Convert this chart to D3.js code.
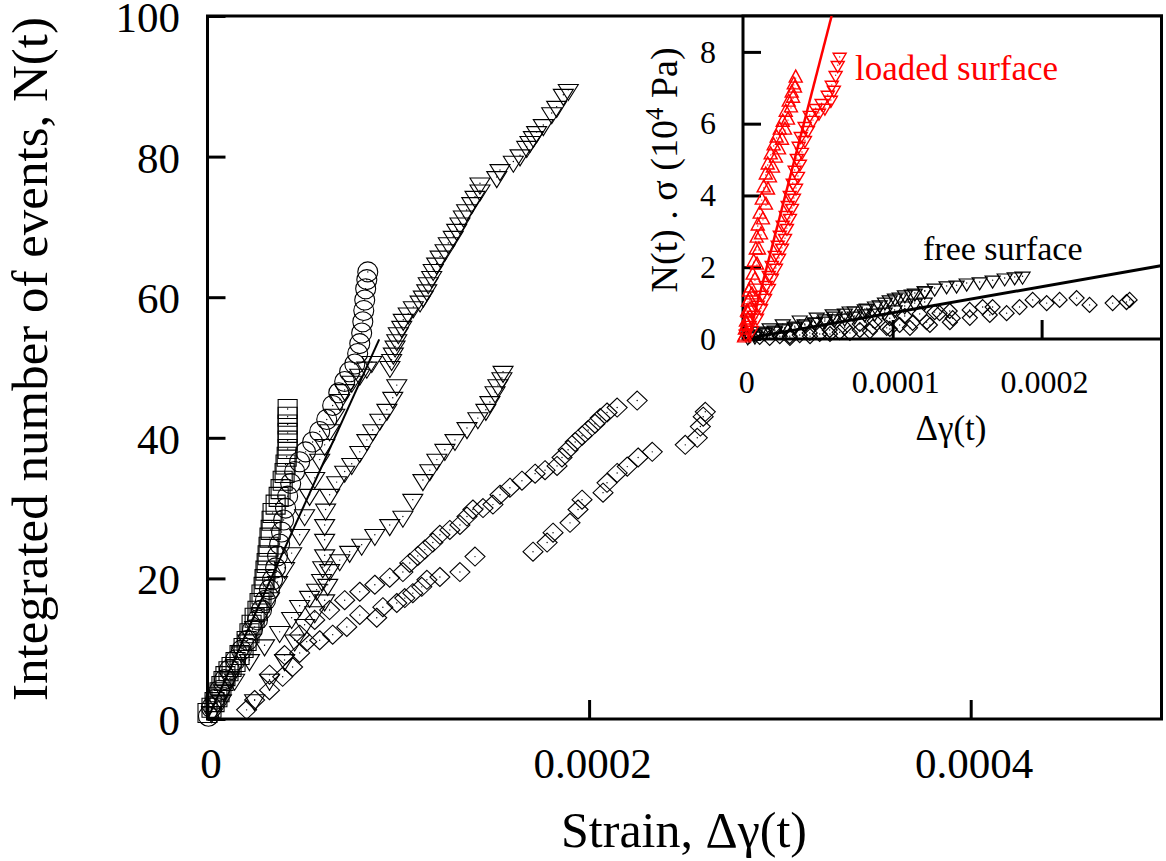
<!DOCTYPE html>
<html><head><meta charset="utf-8">
<script src="https://cdn.jsdelivr.net/npm/d3@7"></script>
<style>
html,body{margin:0;padding:0;background:#fff;}
svg{display:block;font-family:"Liberation Serif","Times New Roman",serif;}
</style></head><body>
<svg id="chart" width="1166" height="861"></svg>
<script>
// ---------- DATA (strain in units of 1e-6, N(t) in events) ----------
const MAIN_X_TICKS = [0, 0.0002, 0.0004];
const MAIN_Y_TICKS = [0, 20, 40, 60, 80, 100];
const INSET_X_TICKS = [0, 0.0001, 0.0002];
const INSET_Y_TICKS = [0, 2, 4, 6, 8];

const squares = [[0,0.85],[2.1,1.6],[3.7,2.4],[5.2,3.1],[6.3,3.8],[7.3,4.7],[8.4,5.4],[9.4,6.1],[11.0,6.8],[12.6,7.4],[14.7,8.1],[16.8,9.1],[18.9,10.1],[20.5,11.1],[22.0,12.2],[23.1,13.4],[24.7,14.4],[26.2,15.4],[27.3,16.5],[28.3,17.7],[29.4,18.8],[29.9,19.9],[30.4,21.1],[31.0,22.2],[31.5,23.3],[32.0,24.5],[32.5,25.8],[33.1,26.9],[33.6,28.2],[34.1,29.3],[35.7,30.5],[37.3,31.6],[38.3,32.7],[39.4,33.9],[40.4,35.0],[40.9,36.2],[41.5,37.3],[42.0,38.4],[42.0,39.6],[42.0,40.7],[42.0,41.9],[42.0,43.0],[42.0,44.1]];

const circles = [[0.5,0.4],[2.1,1.6],[4.2,2.8],[6.3,4.1],[8.9,5.6],[11.5,7.0],[14.7,8.4],[17.8,9.8],[21.0,11.2],[23.6,12.7],[26.2,14.1],[28.3,15.5],[30.4,16.9],[32.5,18.4],[34.1,19.8],[35.7,21.5],[36.7,23.2],[37.8,24.9],[38.8,26.6],[39.9,28.3],[40.9,30.0],[42.0,31.7],[43.6,33.5],[45.7,35.2],[48.3,36.6],[51.4,38.0],[55.1,39.4],[58.8,40.9],[62.5,42.6],[65.6,44.6],[68.8,46.4],[71.9,48.0],[74.5,49.4],[77.2,50.5],[78.7,52.0],[79.8,53.4],[80.8,54.9],[81.4,56.5],[81.9,58.1],[82.4,59.6],[82.9,61.2],[83.5,62.5],[84.0,63.6]];

const trianglesA = [[7.3,2.7],[14.2,5.6],[22.0,8.4],[29.9,10.5],[37.8,12.4],[44.1,14.4],[48.3,16.1],[53.5,17.4],[57.2,18.4],[59.8,19.8],[60.4,21.6],[61.4,23.3],[61.4,25.5],[61.4,27.6],[61.9,29.8],[64.0,31.9],[67.7,33.7],[71.9,35.2],[75.6,36.3],[79.8,38.0],[83.5,39.7],[86.6,41.1],[90.3,42.6],[94.0,44.0],[97.1,45.7],[99.2,47.5],[95.6,50.1],[96.5,51.1],[97.4,52.0],[98.3,53.0],[99.2,53.9],[100.0,54.9],[101.8,55.8],[102.6,56.8],[105.2,57.7],[107.9,58.6],[111.4,59.4],[113.1,60.1],[114.9,61.0],[115.7,62.0],[117.5,62.9],[118.3,63.9],[120.1,64.8],[121.9,65.8],[124.5,66.7],[126.2,67.7],[128.8,68.6],[130.6,69.6],[132.3,70.5],[134.1,71.5],[135.8,72.4],[138.5,73.4],[140.2,74.3],[142.8,75.2],[142.8,76.2],[151.6,77.1],[153.3,78.1],[160.3,79.3],[163.8,80.2],[167.3,81.4],[169.0,82.1],[170.8,82.8],[172.5,83.5],[176.0,84.5],[180.4,86.2],[183.0,87.1],[186.5,88.8],[189.1,89.5]];

const trianglesB = [[2.1,1.0],[5.2,2.4],[8.4,4.1],[11.5,5.8],[14.7,7.7],[17.8,9.5],[21.0,11.2],[24.7,13.1],[28.3,15.1],[32.5,17.2],[36.7,19.5],[40.4,21.5],[44.1,23.6],[48.3,26.2],[50.9,29.0],[53.5,31.9],[56.2,34.3],[58.8,36.9],[61.4,39.0],[64.0,41.1],[66.7,43.3],[69.3,45.4],[71.9,46.8],[75.6,48.0],[79.8,49.0],[83.5,50.0],[86.1,50.8]];

const trianglesC = [[24.7,2.7],[32.5,5.6],[40.4,8.4],[45.7,11.2],[50.9,13.4],[56.2,15.2],[61.4,16.9],[63.0,19.1],[64.0,21.2],[69.3,22.6],[74.5,23.8],[80.8,24.8],[87.7,26.2],[95.5,27.6],[102.4,28.8],[107.6,31.2],[112.9,34.0],[116.5,35.4],[120.2,36.9],[124.4,38.3],[129.7,39.7],[136.0,41.4],[141.7,42.8],[145.9,44.0],[148.0,45.1],[150.7,46.5],[152.2,47.5],[154.3,48.5],[154.9,49.4]];

const diamondsA = [[24.7,2.7],[32.5,6.3],[40.4,9.1],[48.3,12.0],[56.2,14.1],[64.0,15.5],[71.9,16.9],[79.8,18.1],[87.7,19.1],[95.5,20.1],[102.4,20.9],[106.0,22.2],[110.2,23.2],[113.9,24.1],[118.1,25.1],[121.8,26.2],[127.0,26.9],[132.3,27.6],[136.0,28.8],[139.1,29.8],[144.4,30.0],[149.6,30.5],[153.3,31.9],[158.5,32.9],[164.8,33.9],[171.7,34.9],[176.9,35.4],[183.2,36.0],[185.8,37.2],[189.0,38.3],[192.7,39.4],[196.3,40.3],[199.5,41.1],[203.1,42.0],[205.8,42.8],[209.4,43.6],[214.7,44.3],[225.2,45.3]];

const diamondsB = [[20.5,1.3],[32.5,4.1],[39.4,6.0],[44.6,7.4],[48.3,9.4],[52.0,11.0],[58.8,11.2],[65.6,12.0],[73.0,13.1],[79.8,14.8],[88.7,14.4],[91.9,15.9],[99.2,16.5],[103.4,17.2],[107.6,17.9],[112.3,18.8],[115.0,19.8],[121.8,20.2],[132.3,20.9],[140.2,23.1],[170.6,23.8],[178.0,25.1],[181.1,26.5],[190.0,27.9],[194.2,29.8],[196.3,31.2],[207.3,32.2],[209.4,33.6],[214.7,35.0],[220.0,35.9],[225.7,37.2],[233.1,38.0],[250.4,39.0],[256.7,40.0],[258.3,41.6],[259.8,43.0],[260.9,43.7]];

const mainFit = [[0,0],[90,54]];

// inset: strain (1e-6), N(t)*sigma (1e4 Pa)
const loadedUp = [[0.2,0.03],[0.7,0.08],[0.8,0.25],[1.5,0.47],[2.0,0.39],[2.2,0.75],[2.7,0.72],[2.9,0.53],[2.9,1.03],[3.5,1.31],[4.0,1.09],[4.2,0.81],[4.7,1.42],[5.5,1.23],[6.0,1.78],[6.7,2.14],[7.5,1.64],[8.1,2.48],[8.7,2.81],[8.9,2.06],[9.4,3.15],[10.2,2.48],[10.7,3.48],[11.6,2.90],[12.1,3.87],[12.9,3.32],[13.4,4.21],[14.8,4.57],[14.9,3.73],[16.1,4.85],[16.3,4.15],[17.6,4.49],[18.1,5.13],[19.6,4.76],[20.1,5.38],[21.6,5.04],[22.1,5.60],[23.7,5.27],[24.2,5.82],[25.7,5.54],[26.2,6.04],[27.7,5.82],[28.2,6.32],[29.7,6.10],[30.2,6.60],[31.7,6.44],[32.2,6.85],[33.1,6.71],[33.6,7.08],[34.4,6.99],[34.9,7.27]];
const loadedDown = [[1.3,0.14],[4.0,0.39],[5.5,0.25],[6.7,0.67],[8.9,0.59],[9.4,0.95],[11.6,0.86],[12.1,1.23],[14.3,1.14],[14.8,1.50],[16.8,1.78],[16.9,1.42],[18.8,2.06],[18.9,1.70],[20.8,2.34],[21.6,1.98],[22.8,2.62],[23.7,2.26],[24.2,2.90],[25.7,2.54],[26.2,3.18],[27.7,2.81],[28.2,3.45],[29.0,3.09],[29.5,3.73],[30.9,4.01],[31.0,3.37],[32.4,3.65],[32.9,4.35],[33.7,3.93],[34.2,4.71],[35.1,4.21],[35.6,5.04],[36.4,4.54],[36.9,5.38],[37.7,4.88],[38.3,5.65],[39.1,5.21],[40.9,5.93],[41.1,5.54],[43.1,5.82],[44.3,6.24],[46.5,6.10],[48.3,6.43],[50.5,6.30],[52.3,6.57],[54.5,6.44],[56.4,6.80],[58.5,6.66],[59.1,7.08],[60.5,6.94],[61.7,7.35],[63.1,7.63],[64.4,7.86]];
const freeTriA = [[4.0,0.11],[10.7,0.22],[17.4,0.31],[26.2,0.42],[37.6,0.53],[49.0,0.61],[59.7,0.70],[71.1,0.78],[82.6,0.86],[91.3,0.95],[98.0,1.09],[104.7,1.17],[112.8,1.25],[121.5,1.34],[128.2,1.42],[136.2,1.48],[142.9,1.50],[149.7,1.56],[158.4,1.59],[167.1,1.64],[175.2,1.70],[181.9,1.73],[187.2,1.75]];
const freeTriB = [[2.7,0.06],[7.4,0.14],[14.1,0.19],[20.8,0.25],[27.5,0.31],[34.2,0.36],[40.9,0.42],[47.7,0.47],[54.4,0.50],[61.1,0.56],[67.8,0.58],[74.5,0.64],[81.2,0.70],[87.9,0.72],[94.6,0.75],[101.3,0.81],[108.1,0.92],[114.8,1.00],[121.5,1.03]];
const freeTriC = [[7.5,0.08],[14.3,0.17],[21.0,0.22],[27.7,0.28],[34.4,0.33],[41.1,0.39],[47.8,0.47],[54.5,0.56],[61.2,0.64],[67.9,0.72],[74.6,0.78],[81.3,0.84],[88.1,0.92],[94.8,1.03],[101.5,1.14],[108.2,1.23],[114.9,1.28],[121.6,1.34]];
const freeDiaA = [[10.7,0.06],[24.2,0.08],[37.6,0.11],[51.0,0.14],[64.4,0.19],[77.9,0.25],[86.6,0.33],[96.0,0.31],[104.7,0.39],[113.4,0.45],[122.8,0.47],[131.5,0.72],[140.3,0.58],[151.7,0.81],[160.4,0.89],[167.1,0.89],[176.5,0.72],[185.2,0.89],[194.0,1.09],[203.4,1.00],[212.1,1.09],[223.5,1.14],[232.2,0.95],[247.7,1.00],[257.0,1.03],[259.1,1.09]];
const freeDiaB = [[17.4,0.03],[30.9,0.08],[44.3,0.17],[57.7,0.25],[67.8,0.33],[77.9,0.42],[87.9,0.50],[98.0,0.58],[108.1,0.64],[118.1,0.70],[128.2,0.75],[138.3,0.78]];
const freeDiaC = [[31.0,0.03],[44.5,0.08],[57.9,0.14],[71.3,0.17],[84.7,0.22],[98.1,0.28],[111.6,0.31],[125.0,0.39],[138.4,0.47],[151.8,0.59],[165.2,0.67]];
const loadedFit = [[3,0],[59,9]];
const freeFit = [[0,0],[280,2.04]];

// ---------- DRAWING ----------
const svg = d3.select("#chart");
const FONT = '"Liberation Serif","Times New Roman",serif';
const U = 1e-6;

const M = {left:207.5, right:1161.5, top:16, bottom:719};
const x = d3.scaleLinear().domain([0, 0.0005]).range([M.left, M.right]);
const y = d3.scaleLinear().domain([0, 100]).range([M.bottom, M.top]);

const fmt = d => d === 0 ? "0" : d.toFixed(4);

function triDown(w,h){return `M${-w/2},${-h/3}L${w/2},${-h/3}L0,${2*h/3}Z`;}
function triUp(w,h){return `M${-w/2},${h/3}L${w/2},${h/3}L0,${-2*h/3}Z`;}
function square(s){return `M${-s/2},${-s/2}h${s}v${s}h${-s}Z`;}
function diamond(w,h){return `M0,${-h/2}L${w/2},0L0,${h/2}L${-w/2},0Z`;}
function circle(r){return `M${r},0A${r},${r} 0 1,1 ${-r},0A${r},${r} 0 1,1 ${r},0Z`;}

function series(g, data, xs, ys, shape, color, sw, dot){
  const s = g.append("g");
  s.selectAll("path").data(data).enter().append("path")
    .attr("transform", d => `translate(${xs(d[0]*U)},${ys(d[1])})`)
    .attr("d", shape).attr("fill","none").attr("stroke",color).attr("stroke-width",sw);
  if (dot) {
    s.selectAll("circle").data(data).enter().append("circle")
      .attr("cx", d => xs(d[0]*U)).attr("cy", d => ys(d[1])).attr("r",0.7).attr("fill",color);
  }
}

// main axes
const gx = svg.append("g").attr("transform",`translate(0,${M.bottom})`)
  .call(d3.axisBottom(x).tickValues(MAIN_X_TICKS).tickSizeInner(-19).tickSizeOuter(0).tickPadding(28.5).tickFormat(fmt));
const gy = svg.append("g").attr("transform",`translate(${M.left},0)`)
  .call(d3.axisLeft(y).tickValues(MAIN_Y_TICKS).tickSizeInner(-18).tickSizeOuter(0).tickPadding(27.5));
[gx,gy].forEach(g=>{
  g.select(".domain").remove();
  g.selectAll(".tick line").attr("stroke","#000").attr("stroke-width",3);
  g.selectAll(".tick text").attr("font-size",43).attr("font-family",FONT).attr("fill","#000");
});
gx.selectAll(".tick text").attr("dx",3);
gy.selectAll(".tick text").attr("dy","0.36em");
svg.append("rect").attr("x",M.left).attr("y",M.top).attr("width",M.right-M.left).attr("height",M.bottom-M.top)
  .attr("fill","none").attr("stroke","#000").attr("stroke-width",3);

// main data
const gm = svg.append("g");
series(gm, squares, x, y, square(19), "#000", 1.1, true);
series(gm, circles, x, y, circle(10), "#000", 1.1, true);
series(gm, trianglesA, x, y, triDown(20,16), "#000", 1.1, true);
series(gm, trianglesB, x, y, triDown(20,16), "#000", 1.1, true);
series(gm, trianglesC, x, y, triDown(20,16), "#000", 1.1, true);
series(gm, diamondsA, x, y, diamond(20,19), "#000", 1.1, true);
series(gm, diamondsB, x, y, diamond(20,19), "#000", 1.1, true);
const line = (xs,ys) => d3.line().x(d=>xs(d[0]*U)).y(d=>ys(d[1]));
gm.append("path").datum(mainFit).attr("d", line(x,y)).attr("fill","none").attr("stroke","#000").attr("stroke-width",2);

// main labels
svg.append("text").attr("transform","translate(47,359) rotate(-90)").attr("text-anchor","middle")
  .attr("font-size",51).attr("font-family",FONT).text("Integrated number of events, N(t)");
svg.append("text").attr("x",684).attr("y",847).attr("text-anchor","middle")
  .attr("font-size",50).attr("font-family",FONT).text("Strain, \u0394\u03b3(t)");

// ---------- INSET ----------
const I = {left:743, right:1161.5, top:16, bottom:339};
const ix = d3.scaleLinear().domain([-0.5e-6, 0.0002805]).range([I.left, I.right]);
const iy = d3.scaleLinear().domain([0, 9]).range([I.bottom, I.top]);
svg.append("defs").append("clipPath").attr("id","iclip").append("rect")
  .attr("x",I.left).attr("y",I.top).attr("width",I.right-I.left).attr("height",I.bottom-I.top);
svg.append("rect").attr("x",I.left).attr("y",I.top).attr("width",I.right-I.left).attr("height",I.bottom-I.top)
  .attr("fill","#fff").attr("stroke","#000").attr("stroke-width",3);
const igx = svg.append("g").attr("transform",`translate(0,${I.bottom})`)
  .call(d3.axisBottom(ix).tickValues(INSET_X_TICKS).tickSizeInner(-19).tickSizeOuter(0).tickPadding(31).tickFormat(fmt));
const igy = svg.append("g").attr("transform",`translate(${I.left},0)`)
  .call(d3.axisLeft(iy).tickValues(INSET_Y_TICKS).tickSizeInner(-18).tickSizeOuter(0).tickPadding(27));
[igx,igy].forEach(g=>{
  g.select(".domain").remove();
  g.selectAll(".tick line").attr("stroke","#000").attr("stroke-width",3);
  g.selectAll(".tick text").attr("font-size",32).attr("font-family",FONT).attr("fill","#000");
});
igx.selectAll(".tick text").attr("dx",2.5);

const gi = svg.append("g");
series(gi, freeDiaC, ix, iy, diamond(15,15), "#000", 1.2, true);
series(gi, freeDiaB, ix, iy, diamond(15,15), "#000", 1.2, true);
series(gi, freeTriB, ix, iy, triDown(15,12), "#000", 1.2, true);
series(gi, freeTriC, ix, iy, triDown(15,12), "#000", 1.2, true);
series(gi, freeDiaA, ix, iy, diamond(15,15), "#000", 1.2, true);
series(gi, freeTriA, ix, iy, triDown(15,12), "#000", 1.2, true);
gi.append("path").datum(freeFit).attr("d", line(ix,iy)).attr("clip-path","url(#iclip)")
  .attr("fill","none").attr("stroke","#000").attr("stroke-width",3);
series(gi, loadedUp, ix, iy, triUp(13,12), "#ff0000", 1.4, true);
series(gi, loadedDown, ix, iy, triDown(13,11), "#ff0000", 1.4, true);
gi.append("path").datum(loadedFit).attr("d", line(ix,iy)).attr("clip-path","url(#iclip)")
  .attr("fill","none").attr("stroke","#ff0000").attr("stroke-width",2.5);

svg.append("text").attr("x",855).attr("y",80).attr("font-size",35).attr("font-family",FONT)
  .attr("fill","#ff0000").text("loaded surface");
svg.append("text").attr("x",923).attr("y",260).attr("font-size",34).attr("font-family",FONT)
  .attr("fill","#000").text("free surface");
svg.append("text").attr("x",951).attr("y",440).attr("text-anchor","middle").attr("font-size",35)
  .attr("font-family",FONT).text("\u0394\u03b3(t)");
const yl = svg.append("text").attr("transform","translate(677,170) rotate(-90)").attr("text-anchor","middle")
  .attr("font-size",38).attr("font-family",FONT);
yl.append("tspan").text("N(t) . \u03c3 (10");
yl.append("tspan").attr("font-size",25).attr("dy",-14).text("4");
yl.append("tspan").attr("dy",14).text(" Pa)");
</script>
</body></html>
